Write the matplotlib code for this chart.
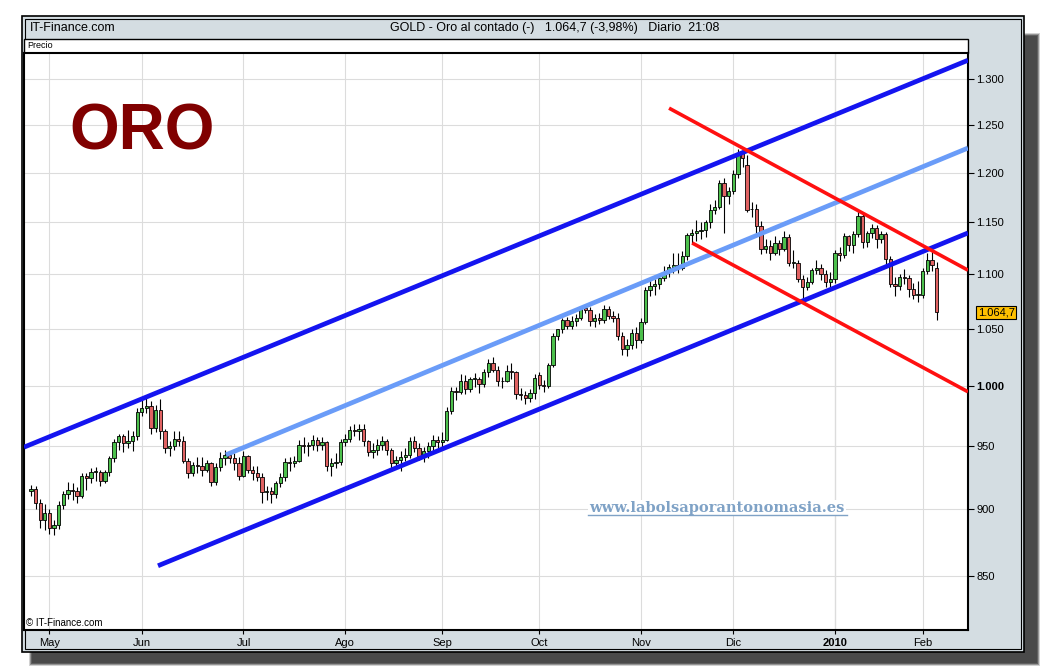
import numpy as np
import pandas as pd
import matplotlib
matplotlib.use("Agg")
import matplotlib.pyplot as plt
from matplotlib.patches import Rectangle
from matplotlib.lines import Line2D
from matplotlib.ticker import FixedLocator, NullLocator

# trading days (US holidays not in the feed)
holidays = ['2009-05-25', '2009-07-03', '2009-09-07', '2009-11-26',
            '2009-12-25', '2010-01-01', '2010-01-18']
dates = pd.bdate_range('2009-04-27', '2010-02-04')
dates = dates[~dates.isin(pd.to_datetime(holidays))]

# OHLC, month by month (Apr 27 2009 .. Feb 4 2010)
opens = [914, 916, 905, 892,
         897, 886, 888, 903, 912, 915, 914, 910, 926, 924, 929, 929, 922, 929, 940, 953, 958, 952, 954, 958,
         978, 981, 983, 965, 980, 962, 948, 950, 956, 954, 938, 928, 935, 934, 931, 936, 921, 933, 940, 943, 940, 936,
         926, 942, 931, 928, 925, 913, 914, 912, 920, 925, 937, 936, 938, 951, 950, 951, 955, 951, 953, 934, 936, 937,
         953, 956, 963, 962, 964, 954, 945, 947, 951, 954, 947, 936, 939, 941, 943, 954, 948, 942, 946, 950, 955,
         953, 955, 979, 996, 995, 1004, 997, 1006, 1006, 1002, 1012, 1020, 1014, 1004, 1004, 1013, 1012, 993, 992, 990, 994,
         1009, 1001, 1000, 1018, 1044, 1050, 1058, 1053, 1057, 1060, 1069, 1067, 1057, 1060, 1058, 1068, 1062, 1060, 1044, 1032, 1036, 1046,
         1040, 1056, 1085, 1089, 1091, 1097, 1102, 1107, 1109, 1106, 1117, 1138, 1140, 1142, 1143, 1150, 1162, 1165, 1189, 1176,
         1181, 1199, 1220, 1208, 1163, 1163, 1146, 1124, 1127, 1120, 1130, 1124, 1136, 1111, 1111, 1096, 1088, 1093, 1104, 1106, 1100, 1093,
         1096, 1120, 1118, 1137, 1128, 1139, 1156, 1131, 1140, 1145, 1134, 1139, 1115, 1091, 1089, 1098, 1097, 1086, 1081,
         1081, 1103, 1114, 1106]
highs = [919, 918, 908, 904,
         900, 892, 906, 914, 921, 920, 917, 928, 928, 932, 933, 931, 931, 942, 956, 960, 960, 963, 962, 981,
         989, 991, 987, 984, 989, 964, 954, 962, 962, 958, 940, 937, 941, 941, 939, 937, 936, 945, 947, 946, 944, 941,
         946, 943, 934, 934, 928, 918, 917, 922, 928, 940, 941, 942, 955, 957, 953, 959, 957, 957, 954, 940, 944, 956,
         960, 966, 968, 968, 968, 955, 952, 956, 958, 956, 948, 942, 946, 948, 957, 958, 952, 949, 953, 959, 958,
         961, 982, 999, 999, 1010, 1009, 1008, 1011, 1008, 1015, 1023, 1025, 1017, 1008, 1018, 1020, 1013, 998, 996, 997, 1010,
         1012, 1005, 1020, 1046, 1050, 1060, 1061, 1062, 1063, 1071, 1072, 1070, 1063, 1064, 1072, 1071, 1066, 1064, 1047, 1041, 1050, 1052,
         1060, 1088, 1095, 1096, 1100, 1108, 1110, 1120, 1120, 1122, 1140, 1144, 1152, 1150, 1152, 1168, 1172, 1192, 1195, 1185,
         1203, 1224, 1227, 1218, 1170, 1168, 1151, 1134, 1133, 1137, 1133, 1142, 1139, 1123, 1114, 1099, 1098, 1106, 1114, 1110, 1104, 1102,
         1123, 1126, 1140, 1138, 1142, 1162, 1158, 1142, 1148, 1147, 1142, 1141, 1117, 1098, 1100, 1105, 1099, 1092, 1094,
         1106, 1120, 1122, 1112]
lows = [910, 900, 886, 884,
        881, 880, 885, 900, 908, 907, 905, 909, 915, 920, 922, 918, 920, 926, 937, 947, 945, 948, 946, 955,
        975, 977, 960, 961, 956, 944, 942, 947, 950, 936, 924, 926, 928, 926, 929, 918, 919, 930, 935, 936, 931, 923,
        925, 928, 923, 922, 905, 907, 905, 909, 917, 922, 930, 933, 937, 944, 942, 947, 946, 947, 930, 926, 932, 935,
        950, 953, 958, 955, 950, 942, 940, 943, 947, 943, 932, 933, 930, 938, 940, 945, 939, 937, 940, 945, 946,
        949, 954, 976, 988, 993, 993, 995, 999, 994, 999, 1008, 1012, 1000, 998, 1003, 1006, 989, 988, 985, 986, 989,
        997, 995, 998, 1016, 1040, 1046, 1050, 1050, 1053, 1058, 1064, 1053, 1052, 1054, 1055, 1059, 1056, 1040, 1027, 1026, 1032, 1033,
        1037, 1054, 1080, 1081, 1086, 1094, 1098, 1101, 1101, 1104, 1114, 1130, 1132, 1134, 1136, 1145, 1158, 1163, 1140, 1168,
        1178, 1194, 1206, 1160, 1155, 1140, 1119, 1120, 1114, 1118, 1118, 1122, 1108, 1106, 1093, 1075, 1085, 1091, 1100, 1095, 1088, 1087,
        1092, 1113, 1116, 1122, 1120, 1136, 1125, 1126, 1135, 1125, 1130, 1108, 1088, 1080, 1085, 1091, 1079, 1077, 1074,
        1078, 1100, 1103, 1058]
closes = [916, 905, 892, 897,
          886, 888, 903, 912, 915, 914, 910, 926, 924, 929, 929, 922, 929, 940, 953, 958, 952, 954, 958, 978,
          981, 983, 965, 980, 962, 948, 950, 956, 954, 938, 928, 935, 934, 931, 936, 921, 933, 940, 943, 940, 936, 926,
          942, 931, 928, 925, 913, 914, 912, 920, 925, 937, 936, 938, 951, 950, 951, 955, 951, 953, 934, 936, 937, 953,
          956, 963, 962, 964, 954, 945, 947, 951, 954, 947, 936, 939, 941, 943, 954, 948, 942, 946, 950, 955, 953,
          955, 979, 996, 995, 1004, 997, 1006, 1006, 1002, 1012, 1020, 1014, 1004, 1004, 1013, 1012, 993, 992, 990, 994, 1007,
          1001, 1000, 1018, 1044, 1050, 1058, 1053, 1057, 1060, 1069, 1067, 1057, 1060, 1058, 1068, 1062, 1060, 1044, 1032, 1036, 1046, 1040,
          1056, 1085, 1089, 1091, 1097, 1102, 1107, 1109, 1106, 1117, 1138, 1140, 1142, 1143, 1150, 1162, 1165, 1189, 1176, 1181,
          1199, 1220, 1215, 1162, 1163, 1146, 1124, 1127, 1120, 1130, 1124, 1136, 1111, 1111, 1096, 1088, 1093, 1104, 1106, 1100, 1093, 1096,
          1120, 1118, 1137, 1128, 1139, 1156, 1131, 1140, 1145, 1134, 1139, 1115, 1091, 1089, 1098, 1097, 1086, 1081, 1082,
          1103, 1114, 1109, 1065]

month_labels = ['May', 'Jun', 'Jul', 'Ago', 'Sep', 'Oct', 'Nov', 'Dic', '2010', 'Feb']
price_ticks = [850, 900, 950, 1000, 1050, 1100, 1150, 1200, 1250, 1300]
price_labels = ['850', '900', '950', '1.000', '1.050', '1.100', '1.150', '1.200', '1.250', '1.300']
last_price = 1064.7

# hand drawn trend lines: (day index, price) at both ends
upper_channel = [(-1.5, 949), (202.8, 1321)]
lower_channel = [(27.5, 857.5), (202.8, 1139.7)]
mid_channel = [(42.2, 942.8), (202.8, 1225.5)]
red_upper = [(138.1, 1268), (202.8, 1104)]
red_lower = [(143.1, 1130), (202.8, 995)]

assert len(dates) == len(opens) == len(highs) == len(lows) == len(closes)

W, H = 1040, 670
def fx(x):
    return x / W
def fy(y):
    return 1 - y / H

narrow = ['Liberation Sans Narrow', 'Liberation Sans']
arial = ['Liberation Sans', 'DejaVu Sans']

fig = plt.figure(figsize=(10.4, 6.7), dpi=100)
fig.patch.set_facecolor('white')

# drop shadow + panel (behind the axes)
for k, a in [(3, 0.25), (2, 0.45), (1, 0.7), (0, 1.0)]:
    fig.add_artist(Rectangle((fx(32 - k), fy(663 + k)), fx(1005 + 2 * k), (647 - 20 + 2 * k) / H,
                             transform=fig.transFigure, facecolor='#4a4a4a', edgecolor='none', alpha=a, zorder=-5))
fig.add_artist(Rectangle((fx(22), fy(652)), fx(1002), 636 / H, transform=fig.transFigure,
                         facecolor='#d4dde2', edgecolor='black', lw=1.2, zorder=-4))
fig.add_artist(Rectangle((fx(25), fy(649)), fx(996), 630 / H, transform=fig.transFigure,
                         facecolor='none', edgecolor='black', lw=0.8, zorder=-3))

# header
fig.text(fx(30), fy(28), 'IT-Finance.com', family=narrow, fontsize=9, va='center')
fig.text(fx(555), fy(28), 'GOLD - Oro al contado (-)   1.064,7 (-3,98%)   Diario  21:08',
         family=narrow, fontsize=9, va='center', ha='center')

# "Precio" strip
fig.add_artist(Rectangle((fx(24), fy(53)), fx(944), 14 / H, transform=fig.transFigure,
                         facecolor='white', edgecolor='black', lw=1.0, zorder=-2))
fig.text(fx(27), fy(46), 'Precio', family=narrow, fontsize=6.5, va='center', zorder=-1)

ax = fig.add_axes([fx(24), fy(630), fx(944), 577 / H])
ax.set_zorder(1)
ax.set_facecolor('white')
ax.set_yscale('log')
ax.set_xlim(-1.5, 202.8)
ax.set_ylim(811.7, 1329.2)

x = np.arange(len(dates))
# month ticks at first trading day of each month
first_day = pd.Series(x, index=dates).groupby(dates.to_period('M')).first().values[1:]
ax.xaxis.set_major_locator(FixedLocator(first_day))
ax.set_xticklabels(month_labels)
ax.yaxis.set_major_locator(FixedLocator(price_ticks))
ax.yaxis.set_minor_locator(NullLocator())
ax.set_yticklabels(price_labels)
ax.yaxis.tick_right()
ax.tick_params(axis='y', length=4, pad=2, labelsize=8, width=0.8)
ax.tick_params(axis='x', length=3, pad=3, labelsize=8, width=0.8)
for t in ax.get_yticklabels():
    t.set_family(arial)
    if t.get_text() == '1.000':
        t.set_weight('bold')
for t in ax.get_xticklabels():
    t.set_family(narrow)
    if t.get_text() == '2010':
        t.set_weight('bold')

ax.grid(True, color='#dcdcdc', lw=0.8, zorder=0)
ax.set_axisbelow(True)
ax.axvline(first_day[8], color='#a8a8a8', lw=0.8, zorder=0.5)
for s in ax.spines.values():
    s.set_linewidth(1.5)

# candles
ax.vlines(x, lows, highs, color='black', lw=0.8, zorder=3)
for i in x:
    o, c = opens[i], closes[i]
    col = '#4cc04c' if c >= o else '#e06262'
    ax.add_patch(Rectangle((i - 0.36, min(o, c)), 0.72, max(abs(c - o), 0.5),
                           facecolor=col, edgecolor='black', lw=0.6, zorder=4))

# trend lines
for pts, col, lw in [(upper_channel, '#1414f0', 3.4), (lower_channel, '#1414f0', 3.4),
                     (mid_channel, '#6a9cf8', 3.4), (red_upper, '#ff1010', 2.6), (red_lower, '#ff1010', 2.6)]:
    ax.plot([p[0] for p in pts], [p[1] for p in pts], color=col, lw=lw, solid_capstyle='butt', zorder=5)

ax.text(0.002, 0.004, '\u00a9 IT-Finance.com', transform=ax.transAxes, family=narrow, fontsize=7, va='bottom')

# last price tag
ax.annotate('1.064,7', xy=(1.0, last_price), xycoords=('axes fraction', 'data'),
            xytext=(7, 0), textcoords='offset points', va='center', ha='left', fontsize=8, family=arial,
            bbox=dict(boxstyle='square,pad=0.15', fc='#ffc000', ec='black', lw=0.8), annotation_clip=False)

# big title and watermark
fig.text(fx(69), fy(150), 'ORO', family=arial, fontsize=46, weight='bold', color='#800000', va='baseline', zorder=6)
fig.text(fx(717), fy(508), 'www.labolsaporantonomasia.es', family='DejaVu Serif', fontsize=10.5,
         weight='bold', color='#7fa2c6', ha='center', va='center', zorder=6,
         bbox=dict(boxstyle='square,pad=0.1', fc='white', ec='none'))
fig.add_artist(Line2D([fx(588), fx(847)], [fy(515), fy(515)], transform=fig.transFigure,
                      color='#7fa2c6', lw=1.0, zorder=7))

plt.savefig('out.png', dpi=100)
